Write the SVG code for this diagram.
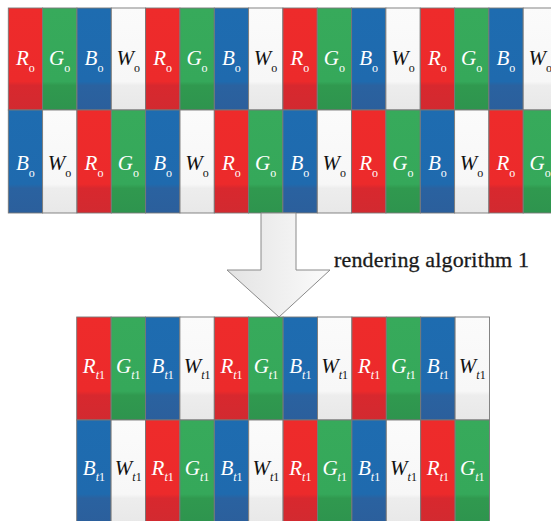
<svg xmlns="http://www.w3.org/2000/svg" width="551" height="521" viewBox="0 0 551 521">
  <defs>
    <linearGradient id="gR" x1="0" y1="0" x2="0" y2="1">
      <stop offset="0" stop-color="#ee2b2b"/>
      <stop offset="0.72" stop-color="#ec2a2b"/>
      <stop offset="0.76" stop-color="#d8282e"/>
      <stop offset="1" stop-color="#d22a30"/>
    </linearGradient>
    <linearGradient id="gG" x1="0" y1="0" x2="0" y2="1">
      <stop offset="0" stop-color="#37aa5b"/>
      <stop offset="0.72" stop-color="#35a85a"/>
      <stop offset="0.76" stop-color="#30994f"/>
      <stop offset="1" stop-color="#2e944e"/>
    </linearGradient>
    <linearGradient id="gB" x1="0" y1="0" x2="0" y2="1">
      <stop offset="0" stop-color="#1e6cb0"/>
      <stop offset="0.72" stop-color="#1f6aae"/>
      <stop offset="0.76" stop-color="#2a62a0"/>
      <stop offset="1" stop-color="#2b5f9c"/>
    </linearGradient>
    <linearGradient id="gW" x1="0" y1="0" x2="0" y2="1">
      <stop offset="0" stop-color="#fbfbfb"/>
      <stop offset="0.72" stop-color="#f7f7f7"/>
      <stop offset="0.76" stop-color="#ededed"/>
      <stop offset="1" stop-color="#e8e8e8"/>
    </linearGradient>
    <linearGradient id="gArrow" x1="0" y1="0" x2="1" y2="0">
      <stop offset="0" stop-color="#e3e3e3"/>
      <stop offset="1" stop-color="#fbfbfb"/>
    </linearGradient>
  </defs>
  <style>
    rect { stroke: #787878; stroke-width: 0.9; }
    .R { fill: url(#gR); }
    .G { fill: url(#gG); }
    .B { fill: url(#gB); }
    .W { fill: url(#gW); }
    text { font-family: 'Liberation Serif', 'DejaVu Serif', serif; }
    .L { font-size: 21px; font-style: italic; text-anchor: middle; }
    .lw { fill: #ffffff; }
    .lk { fill: #111111; }
    .s { font-size: 12px; font-style: normal; }
    .i { font-style: italic; }
    .caption { font-size: 22px; fill: #1a1a1a; stroke: #1a1a1a; stroke-width: 0.3; }
    .arrow { fill: url(#gArrow); stroke: #8a8a8a; stroke-width: 1; }
  </style>

  <!-- upper strip: original sub-pixels, row 1 -->
  <g id="top-row1">
    <g id="o-r1-c0" transform="translate(8.3,8)"><rect class="R" width="34.3" height="102"/><text class="L lw" x="17" y="57">R<tspan class="s" dy="7">o</tspan></text></g>
    <g id="o-r1-c1" transform="translate(42.6,8)"><rect class="G" width="34.3" height="102"/><text class="L lw" x="17" y="57">G<tspan class="s" dy="7">o</tspan></text></g>
    <g id="o-r1-c2" transform="translate(77,8)"><rect class="B" width="34.3" height="102"/><text class="L lw" x="17" y="57">B<tspan class="s" dy="7">o</tspan></text></g>
    <g id="o-r1-c3" transform="translate(111.3,8)"><rect class="W" width="34.3" height="102"/><text class="L lk" x="17" y="57">W<tspan class="s" dy="7">o</tspan></text></g>
    <g id="o-r1-c4" transform="translate(145.6,8)"><rect class="R" width="34.3" height="102"/><text class="L lw" x="17" y="57">R<tspan class="s" dy="7">o</tspan></text></g>
    <g id="o-r1-c5" transform="translate(180,8)"><rect class="G" width="34.3" height="102"/><text class="L lw" x="17" y="57">G<tspan class="s" dy="7">o</tspan></text></g>
    <g id="o-r1-c6" transform="translate(214.3,8)"><rect class="B" width="34.3" height="102"/><text class="L lw" x="17" y="57">B<tspan class="s" dy="7">o</tspan></text></g>
    <g id="o-r1-c7" transform="translate(248.6,8)"><rect class="W" width="34.3" height="102"/><text class="L lk" x="17" y="57">W<tspan class="s" dy="7">o</tspan></text></g>
    <g id="o-r1-c8" transform="translate(282.9,8)"><rect class="R" width="34.3" height="102"/><text class="L lw" x="17" y="57">R<tspan class="s" dy="7">o</tspan></text></g>
    <g id="o-r1-c9" transform="translate(317.3,8)"><rect class="G" width="34.3" height="102"/><text class="L lw" x="17" y="57">G<tspan class="s" dy="7">o</tspan></text></g>
    <g id="o-r1-c10" transform="translate(351.6,8)"><rect class="B" width="34.3" height="102"/><text class="L lw" x="17" y="57">B<tspan class="s" dy="7">o</tspan></text></g>
    <g id="o-r1-c11" transform="translate(385.9,8)"><rect class="W" width="34.3" height="102"/><text class="L lk" x="17" y="57">W<tspan class="s" dy="7">o</tspan></text></g>
    <g id="o-r1-c12" transform="translate(420.3,8)"><rect class="R" width="34.3" height="102"/><text class="L lw" x="17" y="57">R<tspan class="s" dy="7">o</tspan></text></g>
    <g id="o-r1-c13" transform="translate(454.6,8)"><rect class="G" width="34.3" height="102"/><text class="L lw" x="17" y="57">G<tspan class="s" dy="7">o</tspan></text></g>
    <g id="o-r1-c14" transform="translate(488.9,8)"><rect class="B" width="34.3" height="102"/><text class="L lw" x="17" y="57">B<tspan class="s" dy="7">o</tspan></text></g>
    <g id="o-r1-c15" transform="translate(523.2,8)"><rect class="W" width="34.3" height="102"/><text class="L lk" x="17" y="57">W<tspan class="s" dy="7">o</tspan></text></g>
  </g>

  <!-- upper strip, row 2 -->
  <g id="top-row2">
    <g id="o-r2-c0" transform="translate(8.3,110)"><rect class="B" width="34.3" height="103"/><text class="L lw" x="17" y="60">B<tspan class="s" dy="7">o</tspan></text></g>
    <g id="o-r2-c1" transform="translate(42.6,110)"><rect class="W" width="34.3" height="103"/><text class="L lk" x="17" y="60">W<tspan class="s" dy="7">o</tspan></text></g>
    <g id="o-r2-c2" transform="translate(77,110)"><rect class="R" width="34.3" height="103"/><text class="L lw" x="17" y="60">R<tspan class="s" dy="7">o</tspan></text></g>
    <g id="o-r2-c3" transform="translate(111.3,110)"><rect class="G" width="34.3" height="103"/><text class="L lw" x="17" y="60">G<tspan class="s" dy="7">o</tspan></text></g>
    <g id="o-r2-c4" transform="translate(145.6,110)"><rect class="B" width="34.3" height="103"/><text class="L lw" x="17" y="60">B<tspan class="s" dy="7">o</tspan></text></g>
    <g id="o-r2-c5" transform="translate(180,110)"><rect class="W" width="34.3" height="103"/><text class="L lk" x="17" y="60">W<tspan class="s" dy="7">o</tspan></text></g>
    <g id="o-r2-c6" transform="translate(214.3,110)"><rect class="R" width="34.3" height="103"/><text class="L lw" x="17" y="60">R<tspan class="s" dy="7">o</tspan></text></g>
    <g id="o-r2-c7" transform="translate(248.6,110)"><rect class="G" width="34.3" height="103"/><text class="L lw" x="17" y="60">G<tspan class="s" dy="7">o</tspan></text></g>
    <g id="o-r2-c8" transform="translate(282.9,110)"><rect class="B" width="34.3" height="103"/><text class="L lw" x="17" y="60">B<tspan class="s" dy="7">o</tspan></text></g>
    <g id="o-r2-c9" transform="translate(317.3,110)"><rect class="W" width="34.3" height="103"/><text class="L lk" x="17" y="60">W<tspan class="s" dy="7">o</tspan></text></g>
    <g id="o-r2-c10" transform="translate(351.6,110)"><rect class="R" width="34.3" height="103"/><text class="L lw" x="17" y="60">R<tspan class="s" dy="7">o</tspan></text></g>
    <g id="o-r2-c11" transform="translate(385.9,110)"><rect class="G" width="34.3" height="103"/><text class="L lw" x="17" y="60">G<tspan class="s" dy="7">o</tspan></text></g>
    <g id="o-r2-c12" transform="translate(420.3,110)"><rect class="B" width="34.3" height="103"/><text class="L lw" x="17" y="60">B<tspan class="s" dy="7">o</tspan></text></g>
    <g id="o-r2-c13" transform="translate(454.6,110)"><rect class="W" width="34.3" height="103"/><text class="L lk" x="17" y="60">W<tspan class="s" dy="7">o</tspan></text></g>
    <g id="o-r2-c14" transform="translate(488.9,110)"><rect class="R" width="34.3" height="103"/><text class="L lw" x="17" y="60">R<tspan class="s" dy="7">o</tspan></text></g>
    <g id="o-r2-c15" transform="translate(523.2,110)"><rect class="G" width="34.3" height="103"/><text class="L lw" x="17" y="60">G<tspan class="s" dy="7">o</tspan></text></g>
  </g>

  <!-- block arrow between the two strips -->
  <g id="connectors">
    <polygon class="arrow" points="261,213 296,213 296,270 330,270 279,317 227,270 261,270"/>
  </g>
  <g id="arrow-label">
    <text class="caption" x="334" y="267" textLength="195" lengthAdjust="spacing">rendering algorithm 1</text>
  </g>

  <!-- lower strip: rendered sub-pixels, row 1 -->
  <g id="bottom-row1">
    <g id="t-r1-c0" transform="translate(76.7,317)"><rect class="R" width="34.4" height="103"/><text class="L lw" x="17.2" y="56">R<tspan class="s" dy="6"><tspan class="i">t</tspan>1</tspan></text></g>
    <g id="t-r1-c1" transform="translate(111.1,317)"><rect class="G" width="34.4" height="103"/><text class="L lw" x="17.2" y="56">G<tspan class="s" dy="6"><tspan class="i">t</tspan>1</tspan></text></g>
    <g id="t-r1-c2" transform="translate(145.5,317)"><rect class="B" width="34.4" height="103"/><text class="L lw" x="17.2" y="56">B<tspan class="s" dy="6"><tspan class="i">t</tspan>1</tspan></text></g>
    <g id="t-r1-c3" transform="translate(179.9,317)"><rect class="W" width="34.4" height="103"/><text class="L lk" x="17.2" y="56">W<tspan class="s" dy="6"><tspan class="i">t</tspan>1</tspan></text></g>
    <g id="t-r1-c4" transform="translate(214.3,317)"><rect class="R" width="34.4" height="103"/><text class="L lw" x="17.2" y="56">R<tspan class="s" dy="6"><tspan class="i">t</tspan>1</tspan></text></g>
    <g id="t-r1-c5" transform="translate(248.7,317)"><rect class="G" width="34.4" height="103"/><text class="L lw" x="17.2" y="56">G<tspan class="s" dy="6"><tspan class="i">t</tspan>1</tspan></text></g>
    <g id="t-r1-c6" transform="translate(283.1,317)"><rect class="B" width="34.4" height="103"/><text class="L lw" x="17.2" y="56">B<tspan class="s" dy="6"><tspan class="i">t</tspan>1</tspan></text></g>
    <g id="t-r1-c7" transform="translate(317.5,317)"><rect class="W" width="34.4" height="103"/><text class="L lk" x="17.2" y="56">W<tspan class="s" dy="6"><tspan class="i">t</tspan>1</tspan></text></g>
    <g id="t-r1-c8" transform="translate(351.9,317)"><rect class="R" width="34.4" height="103"/><text class="L lw" x="17.2" y="56">R<tspan class="s" dy="6"><tspan class="i">t</tspan>1</tspan></text></g>
    <g id="t-r1-c9" transform="translate(386.3,317)"><rect class="G" width="34.4" height="103"/><text class="L lw" x="17.2" y="56">G<tspan class="s" dy="6"><tspan class="i">t</tspan>1</tspan></text></g>
    <g id="t-r1-c10" transform="translate(420.7,317)"><rect class="B" width="34.4" height="103"/><text class="L lw" x="17.2" y="56">B<tspan class="s" dy="6"><tspan class="i">t</tspan>1</tspan></text></g>
    <g id="t-r1-c11" transform="translate(455.1,317)"><rect class="W" width="34.4" height="103"/><text class="L lk" x="17.2" y="56">W<tspan class="s" dy="6"><tspan class="i">t</tspan>1</tspan></text></g>
  </g>

  <!-- lower strip, row 2 -->
  <g id="bottom-row2">
    <g id="t-r2-c0" transform="translate(76.7,420)"><rect class="B" width="34.4" height="103"/><text class="L lw" x="17.2" y="55">B<tspan class="s" dy="6"><tspan class="i">t</tspan>1</tspan></text></g>
    <g id="t-r2-c1" transform="translate(111.1,420)"><rect class="W" width="34.4" height="103"/><text class="L lk" x="17.2" y="55">W<tspan class="s" dy="6"><tspan class="i">t</tspan>1</tspan></text></g>
    <g id="t-r2-c2" transform="translate(145.5,420)"><rect class="R" width="34.4" height="103"/><text class="L lw" x="17.2" y="55">R<tspan class="s" dy="6"><tspan class="i">t</tspan>1</tspan></text></g>
    <g id="t-r2-c3" transform="translate(179.9,420)"><rect class="G" width="34.4" height="103"/><text class="L lw" x="17.2" y="55">G<tspan class="s" dy="6"><tspan class="i">t</tspan>1</tspan></text></g>
    <g id="t-r2-c4" transform="translate(214.3,420)"><rect class="B" width="34.4" height="103"/><text class="L lw" x="17.2" y="55">B<tspan class="s" dy="6"><tspan class="i">t</tspan>1</tspan></text></g>
    <g id="t-r2-c5" transform="translate(248.7,420)"><rect class="W" width="34.4" height="103"/><text class="L lk" x="17.2" y="55">W<tspan class="s" dy="6"><tspan class="i">t</tspan>1</tspan></text></g>
    <g id="t-r2-c6" transform="translate(283.1,420)"><rect class="R" width="34.4" height="103"/><text class="L lw" x="17.2" y="55">R<tspan class="s" dy="6"><tspan class="i">t</tspan>1</tspan></text></g>
    <g id="t-r2-c7" transform="translate(317.5,420)"><rect class="G" width="34.4" height="103"/><text class="L lw" x="17.2" y="55">G<tspan class="s" dy="6"><tspan class="i">t</tspan>1</tspan></text></g>
    <g id="t-r2-c8" transform="translate(351.9,420)"><rect class="B" width="34.4" height="103"/><text class="L lw" x="17.2" y="55">B<tspan class="s" dy="6"><tspan class="i">t</tspan>1</tspan></text></g>
    <g id="t-r2-c9" transform="translate(386.3,420)"><rect class="W" width="34.4" height="103"/><text class="L lk" x="17.2" y="55">W<tspan class="s" dy="6"><tspan class="i">t</tspan>1</tspan></text></g>
    <g id="t-r2-c10" transform="translate(420.7,420)"><rect class="R" width="34.4" height="103"/><text class="L lw" x="17.2" y="55">R<tspan class="s" dy="6"><tspan class="i">t</tspan>1</tspan></text></g>
    <g id="t-r2-c11" transform="translate(455.1,420)"><rect class="G" width="34.4" height="103"/><text class="L lw" x="17.2" y="55">G<tspan class="s" dy="6"><tspan class="i">t</tspan>1</tspan></text></g>
  </g>
</svg>
